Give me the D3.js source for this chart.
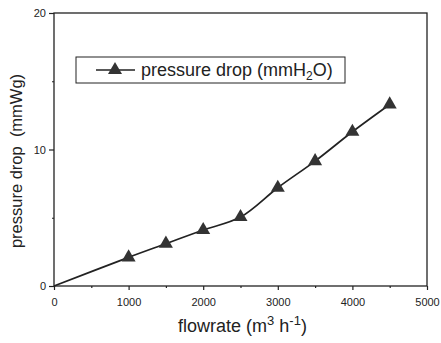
<!DOCTYPE html>
<html>
<head>
<meta charset="utf-8">
<script src="https://cdn.jsdelivr.net/npm/d3@7"></script>
<style>
  body { margin: 0; background: #fff; }
  text { font-family: "Liberation Sans", Arial, sans-serif; fill: #222; }
</style>
</head>
<body>
<div id="chart"></div>
<script>
// values
var flowrate = [0, 1000, 1500, 2000, 2500, 3000, 3500, 4000, 4500];
var pressure = [0, 2.1, 3.1, 4.1, 5.05, 7.2, 9.15, 11.3, 13.3];
var xTicks = [0, 1000, 2000, 3000, 4000, 5000];
var yTicks = [0, 10, 20];
var seriesName = "pressure drop (mmH";

var W = 441, H = 343;
var m = { left: 54, right: 14, top: 13, bottom: 57 };

var svg = d3.select("#chart").append("svg")
    .attr("width", W)
    .attr("height", H);

var x = d3.scaleLinear().domain([0, 5000]).range([m.left, W - m.right]);
var y = d3.scaleLinear().domain([0, 20]).range([H - m.bottom, m.top]);

var ink = "#222";

// frame
svg.append("rect")
    .attr("x", x(0)).attr("y", y(20))
    .attr("width", x(5000) - x(0)).attr("height", y(0) - y(20))
    .attr("fill", "none").attr("stroke", ink).attr("stroke-width", 1.3);

// x axis
var xAxis = svg.append("g")
    .attr("transform", "translate(0," + y(0) + ")")
    .call(d3.axisBottom(x).tickValues(xTicks).tickSize(4).tickFormat(d3.format("d")));
svg.append("g")
    .attr("transform", "translate(0," + y(0) + ")")
    .call(d3.axisBottom(x).tickValues([500, 1500, 2500, 3500, 4500]).tickSize(2).tickFormat(""));

// y axis
var yAxis = svg.append("g")
    .attr("transform", "translate(" + x(0) + ",0)")
    .call(d3.axisLeft(y).tickValues(yTicks).tickSize(5));
svg.append("g")
    .attr("transform", "translate(" + x(0) + ",0)")
    .call(d3.axisLeft(y).tickValues([5, 15]).tickSize(2).tickFormat(""));

svg.selectAll(".domain").remove();
svg.selectAll(".tick line").attr("stroke", ink).attr("stroke-width", 1.2);
svg.selectAll(".tick text").attr("font-size", 11).attr("font-family", "Liberation Sans, Arial, sans-serif").attr("fill", ink);
xAxis.selectAll(".tick text").attr("dy", "1.2em");

// axis titles
var xt = svg.append("text")
    .attr("x", (x(0) + x(5000)) / 2 + 2).attr("y", 332)
    .attr("text-anchor", "middle").attr("font-size", 18);
xt.append("tspan").text("flowrate (m");
xt.append("tspan").attr("dy", -7).attr("font-size", 13).text("3");
xt.append("tspan").attr("dy", 7).text(" h");
xt.append("tspan").attr("dy", -7).attr("font-size", 13).text("-1");
xt.append("tspan").attr("dy", 7).text(")");

svg.append("text")
    .attr("transform", "translate(22,161) rotate(-90)")
    .attr("text-anchor", "middle").attr("font-size", 16.5)
    .text("pressure drop\u00a0\u00a0(mmWg)");

// line and markers
var pts = flowrate.map(function (d, i) { return [d, pressure[i]]; });
var line = d3.line()
    .x(function (d) { return x(d[0]); })
    .y(function (d) { return y(d[1]); })
    .curve(d3.curveCatmullRom);

svg.append("path").datum(pts)
    .attr("d", line)
    .attr("fill", "none").attr("stroke", ink).attr("stroke-width", 1.7);

var tri = d3.symbol().type(d3.symbolTriangle).size(85);
svg.selectAll(".mk").data(pts.slice(1)).enter().append("path")
    .attr("class", "mk")
    .attr("transform", function (d) { return "translate(" + x(d[0]) + "," + y(d[1]) + ")"; })
    .attr("d", tri)
    .attr("fill", "#333");

// legend
var lg = svg.append("g").attr("transform", "translate(76,57)");
lg.append("rect").attr("width", 269).attr("height", 26)
    .attr("fill", "#fff").attr("stroke", ink).attr("stroke-width", 1);
lg.append("line").attr("x1", 20).attr("x2", 59).attr("y1", 13).attr("y2", 13)
    .attr("stroke", ink).attr("stroke-width", 1.7);
lg.append("path").attr("transform", "translate(39,13)").attr("d", tri).attr("fill", "#333");
var lt = lg.append("text").attr("x", 65).attr("y", 19).attr("font-size", 18);
lt.append("tspan").text(seriesName);
lt.append("tspan").attr("dy", 4).attr("font-size", 12).text("2");
lt.append("tspan").attr("dy", -4).text("O)");
</script>
</body>
</html>
